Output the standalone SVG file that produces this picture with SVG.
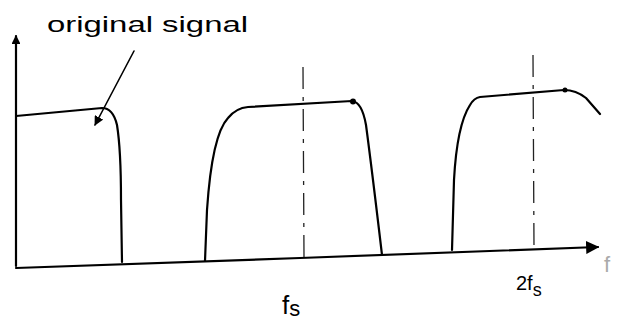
<svg xmlns="http://www.w3.org/2000/svg" width="624" height="328" viewBox="0 0 624 328">
<style>
.ln{fill:none;stroke:#000;stroke-width:2.2;stroke-linecap:round;stroke-linejoin:round}
.dash{fill:none;stroke:#222;stroke-width:1.3;stroke-dasharray:22 8 4 8}
.hand{font-family:"Liberation Sans","DejaVu Sans",sans-serif;fill:#000}
</style>
<defs>
<marker id="ah" viewBox="0 0 10 10" refX="9" refY="5" markerWidth="6" markerHeight="6" orient="auto-start-reverse">
<path d="M0,0 L10,5 L0,10 z" fill="#000"/>
</marker>
<marker id="ahs" viewBox="0 0 10 10" refX="9" refY="5" markerWidth="4" markerHeight="4" orient="auto">
<path d="M0,0 L10,5 L0,10 z" fill="#000"/>
</marker>
</defs>
<rect width="624" height="328" fill="#fff"/>
<!-- axes -->
<path class="ln" d="M16,266 L16,36" marker-end="url(#ahs)"/>
<path class="ln" d="M16,268 L300,258 L598,247" marker-end="url(#ah)"/>
<text class="hand" x="604" y="272" font-size="22" style="fill:#aaa">f</text>
<!-- dashed markers -->
<line class="dash" x1="303" y1="67" x2="304" y2="258"/>
<line class="dash" x1="533" y1="55" x2="534" y2="249"/>
<!-- original signal lobe -->
<path class="ln" d="M16,116 L102,108 Q113,108 117,125 Q121,150 121,200 L122,262"/>
<!-- lobe at fs -->
<path class="ln" d="M205,261 L207,210 Q212,135 228,118 Q236,108 248,107 L352,101 Q362,102 366,125 Q372,170 382,255"/>
<circle cx="353" cy="101.5" r="3"/>
<!-- lobe at 2fs -->
<path class="ln" d="M452,250 L454,180 Q457,125 470,105 Q474,98 480,97 L564,90 Q576,90 586,98 L600,114"/>
<circle cx="565" cy="90" r="2.5"/>
<!-- label and pointer -->
<text class="hand" x="47" y="32" font-size="22" textLength="201" lengthAdjust="spacingAndGlyphs">original signal</text>
<path class="ln" d="M134,51 L95,125" marker-end="url(#ah)" style="stroke-width:1.6"/>
<!-- tick labels -->
<text class="hand" x="282" y="314" font-size="26">f<tspan font-size="22" dy="2">s</tspan></text>
<text class="hand" x="516" y="290" font-size="20">2f<tspan font-size="18" dy="6">s</tspan></text>
</svg>
